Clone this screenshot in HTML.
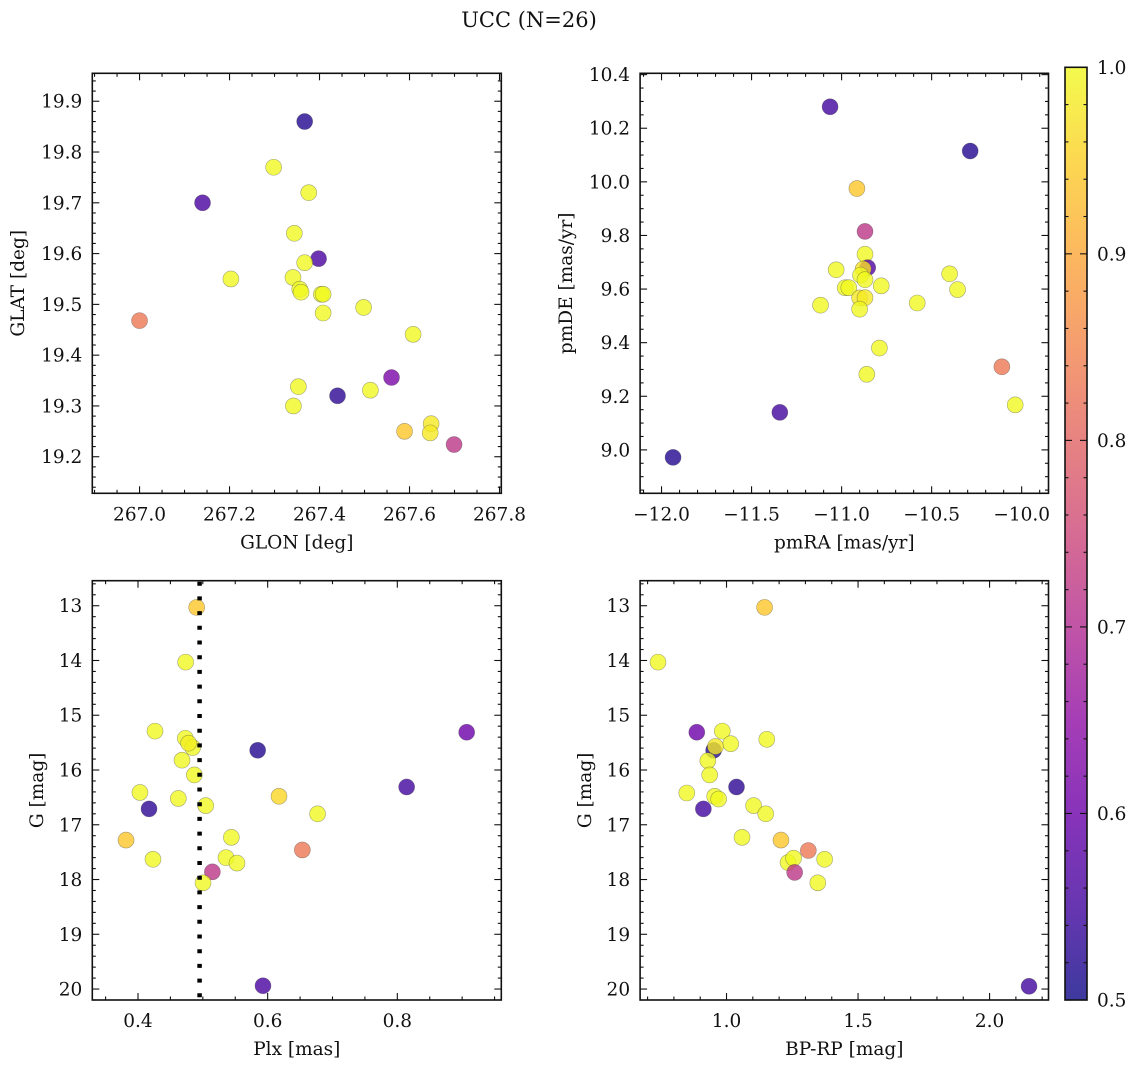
<!DOCTYPE html>
<html><head><meta charset="utf-8">
<style>
html,body{margin:0;padding:0;background:#fff;}
svg{display:block;font-family:"DejaVu Serif","Liberation Serif",serif;}
</style></head>
<body>
<svg id="fig" width="1136" height="1067" viewBox="0 0 1136 1067" xmlns="http://www.w3.org/2000/svg">
<text x="529" y="27" font-size="21" text-anchor="middle" fill="#111">UCC (N=26)</text>
</svg>
<script>
// Panel 1: GLON vs GLAT
const glonP1 = [267.367,267.14,267.298,267.376,267.344,267.398,267.367,267.341,267.203,267.356,267.359,267.404,267.408,267.408,267.498,267.0,267.608,267.56,267.353,267.44,267.513,267.342,267.648,267.589,267.646,267.699];
const glatP1 = [19.86,19.70,19.77,19.72,19.64,19.59,19.582,19.553,19.55,19.53,19.524,19.52,19.52,19.483,19.494,19.468,19.441,19.356,19.338,19.32,19.331,19.30,19.265,19.25,19.247,19.224];
const probP1 = [0.52,0.56,1.0,1.0,1.0,0.56,1.0,1.0,1.0,1.0,1.0,1.0,1.0,1.0,1.0,0.83,1.0,0.62,1.0,0.53,1.0,1.0,0.98,0.94,0.98,0.72];
// Panel 2: pmRA vs pmDE
const pmraP2 = [-11.064,-10.286,-10.915,-10.87,-10.87,-10.855,-10.88,-11.03,-10.895,-10.87,-10.78,-10.98,-10.96,-10.40,-10.356,-10.9,-10.87,-11.117,-10.58,-10.9,-10.79,-10.86,-10.11,-10.036,-11.343,-11.936];
const pmdeP2 = [10.28,10.115,9.975,9.815,9.73,9.68,9.675,9.672,9.652,9.635,9.612,9.605,9.605,9.657,9.598,9.567,9.568,9.54,9.548,9.525,9.38,9.282,9.31,9.168,9.14,8.972];
const probP2 = [0.55,0.52,0.94,0.72,1.0,0.57,0.97,1.0,1.0,1.0,1.0,1.0,1.0,1.0,1.0,0.98,0.98,1.0,1.0,1.0,1.0,1.0,0.83,1.0,0.55,0.52];
// Panel 3: Plx vs G
const plxP3 = [0.4905,0.4735,0.4262,0.473,0.4843,0.478,0.4679,0.4869,0.5846,0.907,0.8144,0.403,0.4622,0.417,0.5044,0.6175,0.677,0.3815,0.544,0.6535,0.4231,0.5357,0.5527,0.5147,0.5003,0.5928];
const gP3 = [13.03,14.03,15.29,15.42,15.59,15.51,15.82,16.09,15.64,15.31,16.31,16.41,16.52,16.71,16.65,16.48,16.80,17.28,17.23,17.46,17.63,17.60,17.70,17.86,18.06,19.94];
const probP3 = [0.94,1.0,1.0,1.0,1.0,0.99,1.0,1.0,0.52,0.60,0.55,1.0,1.0,0.53,1.0,0.96,1.0,0.94,1.0,0.83,1.0,1.0,1.0,0.72,1.0,0.56];
const plxLine = [0.495];
// Panel 4: BP-RP vs G
const bprpP4 = [1.1447,0.7395,0.887,0.984,1.153,1.016,0.951,0.958,0.929,0.936,1.038,0.849,0.955,0.970,0.912,1.103,1.149,1.059,1.207,1.311,1.234,1.255,1.373,1.259,1.347,2.150];
const gP4 = [13.03,14.03,15.31,15.29,15.44,15.52,15.64,15.57,15.83,16.09,16.31,16.42,16.48,16.53,16.71,16.65,16.80,17.23,17.28,17.47,17.69,17.61,17.63,17.87,18.06,19.95];
const probP4 = [0.94,1.0,0.60,1.0,1.0,1.0,0.52,0.98,1.0,1.0,0.53,1.0,1.0,1.0,0.55,1.0,1.0,1.0,0.94,0.83,1.0,1.0,1.0,0.72,1.0,0.55];
// tick labels
const ticksP1x = [267.0,267.2,267.4,267.6,267.8];
const ticksP1y = [19.2,19.3,19.4,19.5,19.6,19.7,19.8,19.9];
const ticksP2x = [-12.0,-11.5,-11.0,-10.5,-10.0];
const ticksP2y = [9.0,9.2,9.4,9.6,9.8,10.0,10.2,10.4];
const ticksP3x = [0.4,0.6,0.8];
const ticksGy = [13,14,15,16,17,18,19,20];
const ticksP4x = [1.0,1.5,2.0];
const ticksCbar = [0.5,0.6,0.7,0.8,0.9,1.0];

const NS = "http://www.w3.org/2000/svg";
const svg = document.getElementById('fig');
function mk(tag, attrs, parent){const e=document.createElementNS(NS,tag);for(const k in attrs)e.setAttribute(k,attrs[k]);(parent||svg).appendChild(e);return e;}

const plasma = ["#0d0887","#41049d","#6a00a8","#8f0da4","#b12a90","#cc4778","#e16462","#f2844b","#fca636","#fcce25","#f0f921"];
function hex(h){return [parseInt(h.substr(1,2),16),parseInt(h.substr(3,2),16),parseInt(h.substr(5,2),16)];}
function cmap(v){let t=(v-0.5)/0.5;t=Math.max(0,Math.min(1,t));const f=t*10;const i=Math.min(9,Math.floor(f));const r=f-i;const a=hex(plasma[i]),b=hex(plasma[i+1]);return `rgb(${a.map((c,k)=>Math.round(c+(b[k]-c)*r)).join(',')})`;}

function fmt(v,d){const s=Math.abs(v).toFixed(d);return (v<0?"\u2212":"")+s;}
const FS=18.5;

function panel(o){
  const g=mk('g',{});
  
  
  const sx=v=>o.x0+(v-o.xmin)/(o.xmax-o.xmin)*(o.x1-o.x0);
  const sy=o.invert? (v=>o.y0+(v-o.ymin)/(o.ymax-o.ymin)*(o.y1-o.y0)) : (v=>o.y1-(v-o.ymin)/(o.ymax-o.ymin)*(o.y1-o.y0));
  const tg=mk('g',{stroke:'#111','stroke-width':1.1},g);
  
  
  const eps=1e-9;
  for(let v=Math.ceil(o.xmin/o.xminor-eps)*o.xminor; v<=o.xmax+eps; v+=o.xminor){
    const major=Math.abs(v/o.xmajor-Math.round(v/o.xmajor))<1e-6;const L=major?7:3.5;const X=sx(v);
    mk('line',{x1:X,x2:X,y1:o.y1,y2:o.y1-L},tg);mk('line',{x1:X,x2:X,y1:o.y0,y2:o.y0+L},tg);
  }
  for(let v=Math.ceil(o.ymin/o.yminor-eps)*o.yminor; v<=o.ymax+eps; v+=o.yminor){
    const major=Math.abs(v/o.ymajor-Math.round(v/o.ymajor))<1e-6;const L=major?7:3.5;const Y=sy(v);
    mk('line',{x1:o.x0,x2:o.x0+L,y1:Y,y2:Y},tg);mk('line',{x1:o.x1,x2:o.x1-L,y1:Y,y2:Y},tg);
  }
  o.xt.forEach(v=>{const t=mk('text',{x:sx(v),y:o.y1+27,'font-size':FS,'text-anchor':'middle',fill:'#111'},g);t.textContent=fmt(v,o.xd);
    
    });
  o.yt.forEach(v=>{const t=mk('text',{x:o.x0-10,y:sy(v)+6.5,'font-size':FS,'text-anchor':'end',fill:'#111'},g);t.textContent=fmt(v,o.yd);
    
    });
  const xl=mk('text',{x:(o.x0+o.x1)/2,y:o.y1+55,'font-size':FS,'text-anchor':'middle',fill:'#111'},g);xl.textContent=o.xlabel;
  
  
  const ylx=o.ylx, yly=(o.y0+o.y1)/2;
  const yl=mk('text',{x:ylx,y:yly,'font-size':FS,'text-anchor':'middle',fill:'#111',transform:`rotate(-90 ${ylx} ${yly})`},g);yl.textContent=o.ylabel;
  
  
  const pg=mk('g',{},g);
  o.xs.forEach((xv,i)=>{const c=mk('circle',{cx:sx(xv),cy:sy(o.ys[i]),r:8,fill:cmap(o.ps[i]),'fill-opacity':0.8,stroke:'rgba(60,60,60,0.45)','stroke-width':0.6},pg);
    
    });
  if(o.vline){o.vline.forEach(v=>{const l=mk('line',{x1:sx(v),x2:sx(v),y1:o.y0+1,y2:o.y1,stroke:'#000','stroke-width':4.5,'stroke-dasharray':'4 10.7'},g);
    
    });}
  const fr=mk('rect',{x:o.x0,y:o.y0,width:o.x1-o.x0,height:o.y1-o.y0,fill:'none',stroke:'#111','stroke-width':1.6},g);
  
  
}

panel({name:'glon-glat-panel',x0:92.3,x1:501.3,y0:73.3,y1:493.3,xmin:266.895,xmax:267.804,ymin:19.128,ymax:19.955,xmajor:0.2,xminor:0.05,ymajor:0.1,yminor:0.02,xt:ticksP1x,yt:ticksP1y,xd:1,yd:1,xlabel:'GLON [deg]',ylabel:'GLAT [deg]',ylx:24,xs:glonP1,ys:glatP1,ps:probP1});
panel({name:'pm-panel',x0:640.1,x1:1048.5,y0:73.3,y1:493.3,xmin:-12.119,xmax:-9.851,ymin:8.838,ymax:10.405,xmajor:0.5,xminor:0.1,ymajor:0.2,yminor:0.05,xt:ticksP2x,yt:ticksP2y,xd:1,yd:1,xlabel:'pmRA [mas/yr]',ylabel:'pmDE [mas/yr]',ylx:572,xs:pmraP2,ys:pmdeP2,ps:probP2});
panel({name:'plx-g-panel',x0:92.3,x1:501.3,y0:580.7,y1:1000,xmin:0.3295,xmax:0.9604,ymin:12.543,ymax:20.2,invert:true,xmajor:0.2,xminor:0.05,ymajor:1,yminor:0.2,xt:ticksP3x,yt:ticksGy,xd:1,yd:0,xlabel:'Plx [mas]',ylabel:'G [mag]',ylx:43,xs:plxP3,ys:gP3,ps:probP3,vline:plxLine});
panel({name:'cmd-panel',x0:640.1,x1:1048.5,y0:580.7,y1:1000,xmin:0.6715,xmax:2.224,ymin:12.543,ymax:20.2,invert:true,xmajor:0.5,xminor:0.1,ymajor:1,yminor:0.2,xt:ticksP4x,yt:ticksGy,xd:1,yd:0,xlabel:'BP-RP [mag]',ylabel:'G [mag]',ylx:591,xs:bprpP4,ys:gP4,ps:probP4});

// colorbar
(function(){
  const x0=1065,x1=1087,y0=67.3,y1=1000;
  const g=mk('g',{});
  
  
  const defs=mk('defs',{},g);
  const lg=mk('linearGradient',{id:'cbg',x1:0,y1:1,x2:0,y2:0},defs);
  for(let i=0;i<=20;i++){const v=0.5+i*0.025;mk('stop',{offset:(i/20),'stop-color':cmap(v),'stop-opacity':0.8},lg);}
  mk('rect',{x:x0,y:y0,width:x1-x0,height:y1-y0,fill:'url(#cbg)'},g);
  const sy=v=>y1-(v-0.5)/0.5*(y1-y0);
  for(let k=0;k<=25;k++){const v=0.5+k*0.02;const major=k%5===0;const L=major?7:3.5;const Y=sy(v);
    mk('line',{x1:x0,x2:x0+L,y1:Y,y2:Y,stroke:'#111','stroke-width':1.1},g);mk('line',{x1:x1,x2:x1-L,y1:Y,y2:Y,stroke:'#111','stroke-width':1.1},g);}
  ticksCbar.forEach(v=>{const t=mk('text',{x:x1+10,y:sy(v)+6.5,'font-size':FS,fill:'#111'},g);t.textContent=v.toFixed(1);
    
    });
  mk('rect',{x:x0,y:y0,width:x1-x0,height:y1-y0,fill:'none',stroke:'#111','stroke-width':1.6},g);
})();
</script>
</body></html>
